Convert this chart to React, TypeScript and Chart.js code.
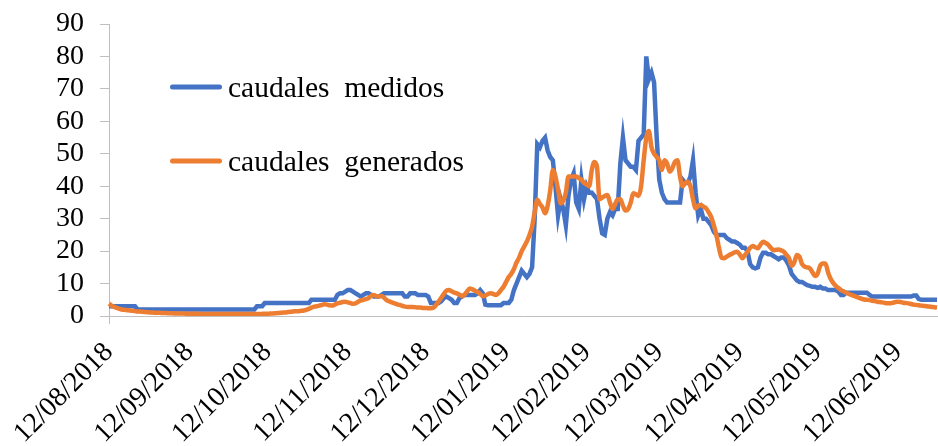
import React, { useEffect, useRef } from "react";
import { Chart, registerables } from "chart.js";

Chart.register(...registerables);

// Daily categories: 12/08/2018 .. 27/06/2019
const START_DATE = "2018-08-12";
const DAY_COUNT = 320;
const CATEGORIES: string[] = (() => {
  const out: string[] = [];
  const base = new Date(START_DATE + "T00:00:00Z");
  for (let i = 0; i < DAY_COUNT; i++) {
    const d = new Date(base.getTime() + i * 86400000);
    const dd = String(d.getUTCDate()).padStart(2, "0");
    const mm = String(d.getUTCMonth() + 1).padStart(2, "0");
    out.push(`${dd}/${mm}/${d.getUTCFullYear()}`);
  }
  return out;
})();

const TICK_LABELS = [
  "12/08/2018", "12/09/2018", "12/10/2018", "12/11/2018", "12/12/2018",
  "12/01/2019", "12/02/2019", "12/03/2019", "12/04/2019", "12/05/2019", "12/06/2019",
];

const SERIES_NAMES = ["caudales  medidos", "caudales  generados"];

const MEDIDOS = [
  3, 3, 3, 3, 3, 3, 3, 3, 3, 3,
  3, 2, 2, 2, 2, 2, 2, 2, 2, 2,
  2, 2, 2, 2, 2, 2, 2, 2, 2, 2,
  2, 2, 2, 2, 2, 2, 2, 2, 2, 2,
  2, 2, 2, 2, 2, 2, 2, 2, 2, 2,
  2, 2, 2, 2, 2, 2, 2, 3, 3, 3,
  4, 4, 4, 4, 4, 4, 4, 4, 4, 4,
  4, 4, 4, 4, 4, 4, 4, 4, 5, 5,
  5, 5, 5, 5, 5, 5, 5, 5, 6.5, 7,
  7, 7.5, 8, 8, 7.5, 7, 6.5, 6, 6.5, 7,
  7, 6.5, 6, 6, 6, 6.5, 7, 7, 7, 7,
  7, 7, 7, 7, 6, 6, 7, 7, 7, 6.5,
  6.5, 6.5, 6.5, 6, 4, 4, 4, 4, 4.5, 5.5,
  6, 5.5, 5, 4, 4, 5.5, 6, 6.5, 6.5, 6.5,
  6.5, 6.5, 7, 8, 7, 3.5, 3.3, 3.3, 3.3, 3.3,
  3.3, 3.3, 4, 4, 4, 5, 8, 10, 12, 14,
  13, 12, 13, 15, 30, 53, 52, 54, 55, 51,
  49, 48, 40, 31, 36, 33, 28, 37, 42, 44,
  35, 33, 42, 36, 40, 38, 38, 37, 36, 30,
  25.5, 25, 30, 32, 31, 33, 33, 47, 55, 48,
  47, 46, 46, 45, 54, 55, 56, 80, 73, 75,
  72, 55, 42, 38, 36, 35, 35, 35, 35, 35,
  35, 42, 41, 41, 43, 48, 38, 31, 33, 30,
  30, 29, 28, 26, 25, 25, 25, 25, 24, 23.5,
  23, 23, 22.5, 22, 21, 21, 20, 16, 15, 14.7,
  15, 18, 19.5, 19.5, 19, 19, 18.5, 18, 17.5, 18,
  18, 17, 15.5, 13, 12, 11, 10.5, 10.5, 10, 9.5,
  9.3, 9, 9, 8.7, 9, 8.5, 8.5, 8, 8, 8,
  8, 7.5, 6.5, 6.5, 7.2, 7.2, 7.2, 7.2, 7.2, 7.2,
  7.2, 7.2, 7.2, 6.5, 6, 6, 6, 6, 6, 6,
  6, 6, 6, 6, 6, 6, 6, 6, 6, 6,
  6.3, 6.3, 5.2, 5, 5, 5, 5, 5, 5, 5,
];

const GENERADOS = [
  3.8, 3.2, 2.8, 2.5, 2.2, 2, 1.9, 1.8, 1.7, 1.6,
  1.5, 1.4, 1.35, 1.3, 1.2, 1.15, 1.1, 1.05, 1, 1,
  0.95, 0.9, 0.9, 0.85, 0.85, 0.8, 0.8, 0.75, 0.75, 0.75,
  0.7, 0.7, 0.7, 0.7, 0.7, 0.65, 0.65, 0.65, 0.6, 0.6,
  0.6, 0.6, 0.6, 0.6, 0.6, 0.6, 0.6, 0.6, 0.6, 0.6,
  0.6, 0.6, 0.6, 0.6, 0.6, 0.6, 0.6, 0.6, 0.6, 0.65,
  0.7, 0.7, 0.75, 0.8, 0.85, 0.9, 1, 1.05, 1.1, 1.2,
  1.3, 1.4, 1.5, 1.5, 1.6, 1.7, 1.9, 2.2, 2.6, 2.9,
  3, 3.2, 3.4, 3.6, 3.5, 3.3, 3.2, 3.5, 3.9, 4.1,
  4.3, 4.4, 4.2, 4, 3.8, 3.9, 4.4, 4.8, 5, 5.2,
  5.5, 6.2, 6.5, 6.1, 6, 6.2, 5.6, 4.9, 4.5, 4.2,
  3.9, 3.6, 3.4, 3.1, 2.9, 2.8, 2.8, 2.8, 2.7, 2.6,
  2.6, 2.5, 2.5, 2.4, 2.4, 2.6, 3.4, 4.5, 5.6, 6.8,
  7.8, 8, 7.6, 7.2, 7, 6.6, 6.1, 6.6, 7.6, 8.5,
  8.2, 7.8, 7.4, 6.8, 6.1, 6.3, 6.8, 7, 6.8, 6.5,
  7, 8, 9, 10.5, 12, 13, 14.5, 16.5, 18, 20,
  21.5, 23, 25, 27.5, 32, 35.8, 34.5, 33.5, 31.7, 34,
  38.8, 45, 43, 39, 34.7, 35.5, 38, 43, 43, 43,
  43, 42.5, 42, 41, 40.5, 40, 45, 47.5, 46, 36,
  36.5, 37, 37.3, 35, 33, 34.5, 36, 36, 34, 32.5,
  33, 35, 37.8, 37.5, 37, 40, 48, 55, 57, 52,
  50, 49, 48, 45, 48, 47, 44.5, 45.5, 47.5, 48,
  43, 40, 41, 41.4, 40, 36, 33.2, 34, 34.2, 33.7,
  33.2, 32, 30.5, 28, 25, 21, 18, 17.8, 18.3, 18.8,
  19.2, 19.6, 19.8, 19, 17.8, 18.8, 19.8, 21, 21.6, 21.2,
  20.9, 22, 22.9, 22.5, 21.9, 21, 20.3, 20.4, 20.5, 20.2,
  19.8, 18.8, 17.8, 15.5, 16.5, 18.8, 18.3, 16, 15.2, 15,
  14.7, 13.5, 12.3, 13, 15.5, 16.2, 16.2, 13.5, 11.5, 10.2,
  9.3, 8.6, 8, 7.6, 7.2, 6.8, 6.5, 6.2, 5.9, 5.6,
  5.3, 5.1, 5, 4.9, 4.7, 4.6, 4.4, 4.3, 4.2, 4,
  3.9, 3.9, 4.1, 4.3, 4.4, 4.3, 4.1, 4, 3.9, 3.7,
  3.5, 3.4, 3.3, 3.2, 3.1, 3, 2.9, 2.8, 2.7, 2.6,
];

const FONT_FAMILY = "'Liberation Serif', 'Times New Roman', serif";
const AXIS_COLOR = "#BFBFBF";
const BLUE = "#4472C4";
const ORANGE = "#ED7D31";

const insideLegend = {
  id: "insideLegend",
  afterDatasetsDraw(chart: any) {
    const { ctx } = chart;
    const rows = [
      { lineY: 87, textY: 97 },
      { lineY: 161, textY: 171 },
    ];
    ctx.save();
    chart.data.datasets.forEach((ds: any, i: number) => {
      const r = rows[i];
      ctx.strokeStyle = ds.borderColor;
      ctx.lineWidth = 5;
      ctx.lineCap = "round";
      ctx.beginPath();
      ctx.moveTo(172.5, r.lineY);
      ctx.lineTo(219.5, r.lineY);
      ctx.stroke();
      ctx.fillStyle = "#000";
      ctx.font = `29.5px ${FONT_FAMILY}`;
      ctx.textAlign = "left";
      ctx.textBaseline = "alphabetic";
      ctx.fillText(ds.label, 228, r.textY);
    });
    ctx.restore();
  },
};

export default function App() {
  const ref = useRef<HTMLCanvasElement | null>(null);

  useEffect(() => {
    if (!ref.current) return;
    const chart = new Chart(ref.current, {
      type: "line",
      data: {
        labels: CATEGORIES,
        datasets: [
          {
            label: SERIES_NAMES[0],
            data: MEDIDOS,
            borderColor: BLUE,
            backgroundColor: BLUE,
            borderWidth: 4.5,
            pointRadius: 0,
            tension: 0,
            order: 1,
          },
          {
            label: SERIES_NAMES[1],
            data: GENERADOS,
            borderColor: ORANGE,
            backgroundColor: ORANGE,
            borderWidth: 4.5,
            pointRadius: 0,
            cubicInterpolationMode: "monotone",
            order: 0,
          },
        ],
      },
      options: {
        responsive: false,
        animation: false,
        layout: { padding: { top: 24, right: 1, left: 0, bottom: 0 } },
        plugins: { legend: { display: false }, tooltip: { enabled: false } },
        scales: {
          x: {
            type: "category",
            offset: false,
            border: { color: AXIS_COLOR, width: 1 },
            grid: {
              drawOnChartArea: false,
              drawTicks: true,
              tickLength: 8,
              color: (c: any) =>
                TICK_LABELS.includes(CATEGORIES[c.index]) ? AXIS_COLOR : "rgba(0,0,0,0)",
            },
            ticks: {
              autoSkip: false,
              minRotation: 45,
              maxRotation: 45,
              padding: 12,
              color: "#000",
              font: { family: FONT_FAMILY, size: 28 },
              callback: (_v: any, i: number) =>
                TICK_LABELS.includes(CATEGORIES[i]) ? CATEGORIES[i] : null,
            },
            afterFit: (s: any) => {
              s.height = 130;
              s.paddingRight = 0;
            },
          },
          y: {
            min: 0,
            max: 90,
            border: { color: AXIS_COLOR, width: 1 },
            grid: { drawOnChartArea: false, drawTicks: true, tickLength: 9, color: AXIS_COLOR },
            ticks: {
              stepSize: 10,
              autoSkip: false,
              padding: 16,
              color: "#000",
              font: { family: FONT_FAMILY, size: 28 },
            },
            afterFit: (s: any) => {
              s.width = 109;
              s.paddingTop = 0;
              s.paddingBottom = 0;
            },
          },
        },
      },
      plugins: [insideLegend],
    });
    return () => chart.destroy();
  }, []);

  return (
    <div style={{ position: "absolute", left: 0, top: 0, width: 938, height: 446, background: "#fff" }}>
      <canvas ref={ref} width={938} height={446} style={{ display: "block" }} />
    </div>
  );
}
